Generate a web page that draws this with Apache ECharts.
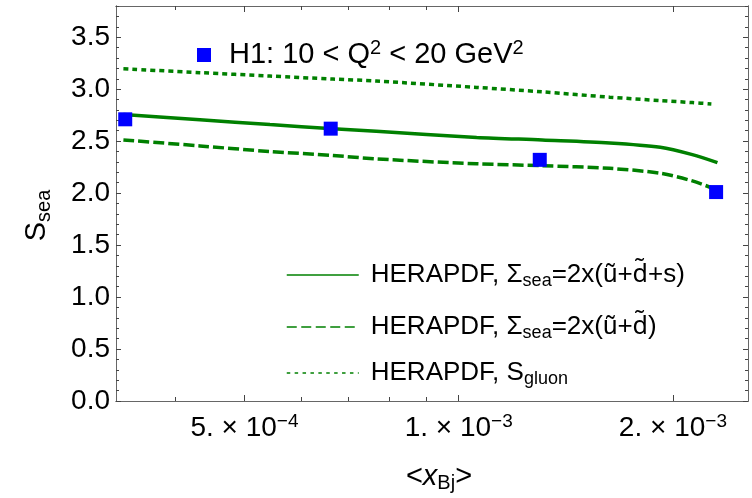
<!DOCTYPE html>
<html>
<head>
<meta charset="utf-8">
<script src="https://cdn.jsdelivr.net/npm/echarts@6/dist/echarts.min.js"></script>
<style>
  html, body { margin: 0; padding: 0; background: #fff; }
  #chart { width: 752px; height: 498px; }
</style>
</head>
<body>
<div id="chart"></div>
<script>
// frame range of the log x axis
const xMin = 3.3e-4;
const xMax = 2.55e-3;
const xMajorTicks = [5e-4, 1e-3, 2e-3];
const xMajorLabels = [["5.", "−4"], ["1.", "−3"], ["2.", "−3"]];
const xMinorTicks = [4e-4, 6e-4, 7e-4, 8e-4, 9e-4];

const yMin = 0;
const yMax = 3.8;
const yTicks = [0, 0.5, 1, 1.5, 2, 2.5, 3, 3.5];
const yTickLabels = ["0.0", "0.5", "1.0", "1.5", "2.0", "2.5", "3.0", "3.5"];

// H1 points
const h1X = [3.40e-4, 6.61e-4, 1.30e-3, 2.30e-3];
const h1Y = [2.71, 2.62, 2.32, 2.01];

// HERAPDF curves
const curveX = [3.38e-4, 4.33e-4, 5.43e-4, 6.66e-4, 7.66e-4, 1.06e-3, 1.31e-3, 1.63e-3, 1.92e-3, 2.13e-3, 2.31e-3];
const seaUDS = [2.757, 2.706, 2.659, 2.620, 2.595, 2.536, 2.511, 2.483, 2.441, 2.370, 2.293];
const seaUD = [2.512, 2.454, 2.400, 2.362, 2.329, 2.282, 2.264, 2.238, 2.191, 2.117, 2.030];
const gluonX = [3.38e-4, 4.33e-4, 5.43e-4, 6.66e-4, 7.66e-4, 1.06e-3, 1.31e-3, 1.63e-3, 1.92e-3, 2.13e-3, 2.265e-3];
const gluon = [3.196, 3.159, 3.126, 3.097, 3.078, 3.017, 2.974, 2.923, 2.890, 2.871, 2.858];

const green = "#008000";
const blue = "#0000ff";
const frameColor = "#666";
const font = "Liberation Sans";

const lg = (v) => Math.log10(v);
const zip = (xs, ys) => xs.map((x, i) => [lg(x), ys[i]]);

const richBase = {
  m: { fontFamily: font, fontSize: 28, lineHeight: 32, color: "#000" },
  sup: { fontFamily: font, fontSize: 19, lineHeight: 18, verticalAlign: "top", color: "#000" },
};

function xAxis(position, ticks, len, withLabels) {
  const ax = {
    type: "value",
    position: position,
    min: lg(xMin),
    max: lg(xMax),
    axisLine: { show: true, onZero: false, lineStyle: { color: frameColor, width: 1 } },
    axisTick: { show: true, inside: true, length: len, customValues: ticks.map(lg), lineStyle: { color: "#444" } },
    axisLabel: { show: false },
    splitLine: { show: false },
  };
  if (withLabels) {
    ax.axisLabel = {
      show: true,
      margin: 11,
      customValues: ticks.map(lg),
      formatter: (v) => {
        const i = xMajorTicks.findIndex((t) => Math.abs(lg(t) - v) < 1e-6);
        const p = xMajorLabels[i];
        return "{m|" + p[0] + " × 10}{sup|" + p[1] + "}";
      },
      rich: richBase,
    };
    ax.name = "{l|<}{i|x}{s|Bj}{l|>}";
    ax.nameLocation = "middle";
    ax.nameGap = 60;
    ax.nameTextStyle = {
      padding: [0, 0, 0, 14],
      rich: {
        l: { fontFamily: font, fontSize: 29, lineHeight: 32, color: "#000" },
        i: { fontFamily: font, fontSize: 29, lineHeight: 32, fontStyle: "italic", color: "#000" },
        s: { fontFamily: font, fontSize: 20, lineHeight: 18, verticalAlign: "bottom", color: "#000" },
      },
    };
  }
  return ax;
}

function yAxis(position, minor, withLabels) {
  const ax = {
    type: "value",
    position: position,
    min: yMin,
    max: yMax,
    axisLine: { show: true, lineStyle: { color: frameColor, width: 1 } },
    axisTick: { show: true, inside: true, length: minor ? 3 : 5, lineStyle: { color: "#444" } },
    axisLabel: { show: false },
    splitLine: { show: false },
  };
  if (minor) {
    ax.interval = 0.1;
  } else {
    ax.axisTick.customValues = yTicks;
  }
  if (withLabels) {
    ax.axisLabel = {
      show: true,
      margin: 6,
      customValues: yTicks,
      fontFamily: font,
      fontSize: 28,
      color: "#000",
      formatter: (v) => yTickLabels[yTicks.findIndex((t) => Math.abs(t - v) < 1e-6)],
    };
    ax.name = "{m|S}{s|sea}";
    ax.nameLocation = "middle";
    ax.nameGap = 62;
    ax.nameTextStyle = {
      padding: [0, 24, 0, 0],
      rich: {
        m: { fontFamily: font, fontSize: 29, lineHeight: 34, color: "#000" },
        s: { fontFamily: font, fontSize: 20, lineHeight: 19, verticalAlign: "bottom", color: "#000" },
      },
    };
  }
  return ax;
}

const legendRich = {
  m: { fontFamily: font, fontSize: 26, lineHeight: 30, color: "#000" },
  f: { fontFamily: font, fontSize: 26, lineHeight: 30, color: "#000", padding: [0, 0, 0, 7] },
  d: { fontFamily: "Noto Sans", fontSize: 25, lineHeight: 30, color: "#000" },
  s: { fontFamily: font, fontSize: 18, lineHeight: 17, verticalAlign: "bottom", color: "#000" },
};
const legendText = {
  uds: "{f|HERAPDF, Σ}{s|sea}{m|=2x(ũ+}{d|d\u0303}{m|+s)}",
  ud: "{f|HERAPDF, Σ}{s|sea}{m|=2x(ũ+}{d|d\u0303}{m|)}",
  gluon: "{f|HERAPDF, S}{s|gluon}",
};

function lineLegend(name, top, type) {
  return {
    data: [{
      name: name,
      lineStyle: { width: 1.5, type: type, color: green },
      itemStyle: { opacity: 0 },
    }],
    left: 286,
    top: top,
    padding: 0,
    itemWidth: 72,
    itemHeight: 14,
    selectedMode: false,
    formatter: (n) => legendText[n],
    textStyle: { rich: legendRich },
  };
}

const chart = echarts.init(document.getElementById("chart"));
chart.setOption({
  animation: false,
  backgroundColor: "#fff",
  grid: { left: 116, right: 4, top: 6, bottom: 97, containLabel: false, outerBoundsMode: "none" },
  xAxis: [
    xAxis("bottom", xMajorTicks, 6, true),
    xAxis("bottom", xMinorTicks, 4, false),
    xAxis("top", xMajorTicks, 6, false),
    xAxis("top", xMinorTicks, 4, false),
  ],
  yAxis: [
    yAxis("left", false, true),
    yAxis("left", true, false),
    yAxis("right", false, false),
    yAxis("right", true, false),
  ],
  legend: [
    {
      data: [{ name: "H1", icon: "rect", itemStyle: { color: blue, opacity: 1 } }],
      left: 197,
      top: 38,
      padding: 0,
      itemWidth: 14,
      itemHeight: 14,
      selectedMode: false,
      formatter: () => "{f|H1: 10 < Q}{sup|2}{m| < 20 GeV}{sup|2}",
      textStyle: {
        rich: {
          m: { fontFamily: font, fontSize: 29, lineHeight: 34, color: "#000" },
          f: { fontFamily: font, fontSize: 29, lineHeight: 34, color: "#000", padding: [0, 0, 0, 13] },
          sup: { fontFamily: font, fontSize: 20, lineHeight: 22, verticalAlign: "top", color: "#000" },
        },
      },
    },
    lineLegend("uds", 262, "solid"),
    lineLegend("ud", 314, [10, 4.5]),
    lineLegend("gluon", 360, [3.5, 4.4]),
  ],
  series: [
    {
      name: "uds",
      type: "line",
      data: zip(curveX, seaUDS),
      symbol: "none",
      smooth: 0.3,
      lineStyle: { color: green, width: 3.5 },
      itemStyle: { color: green },
    },
    {
      name: "ud",
      type: "line",
      data: zip(curveX, seaUD),
      symbol: "none",
      smooth: 0.3,
      lineStyle: { color: green, width: 3.5, type: [11, 4] },
      itemStyle: { color: green },
    },
    {
      name: "gluon",
      type: "line",
      data: zip(gluonX, gluon),
      symbol: "none",
      smooth: 0.3,
      lineStyle: { color: green, width: 3.5, type: [5, 4] },
      itemStyle: { color: green },
    },
    {
      name: "H1",
      type: "scatter",
      data: zip(h1X, h1Y),
      symbol: "rect",
      symbolSize: 14,
      itemStyle: { color: blue, opacity: 1 },
      z: 5,
    },
  ],
});
</script>
</body>
</html>
